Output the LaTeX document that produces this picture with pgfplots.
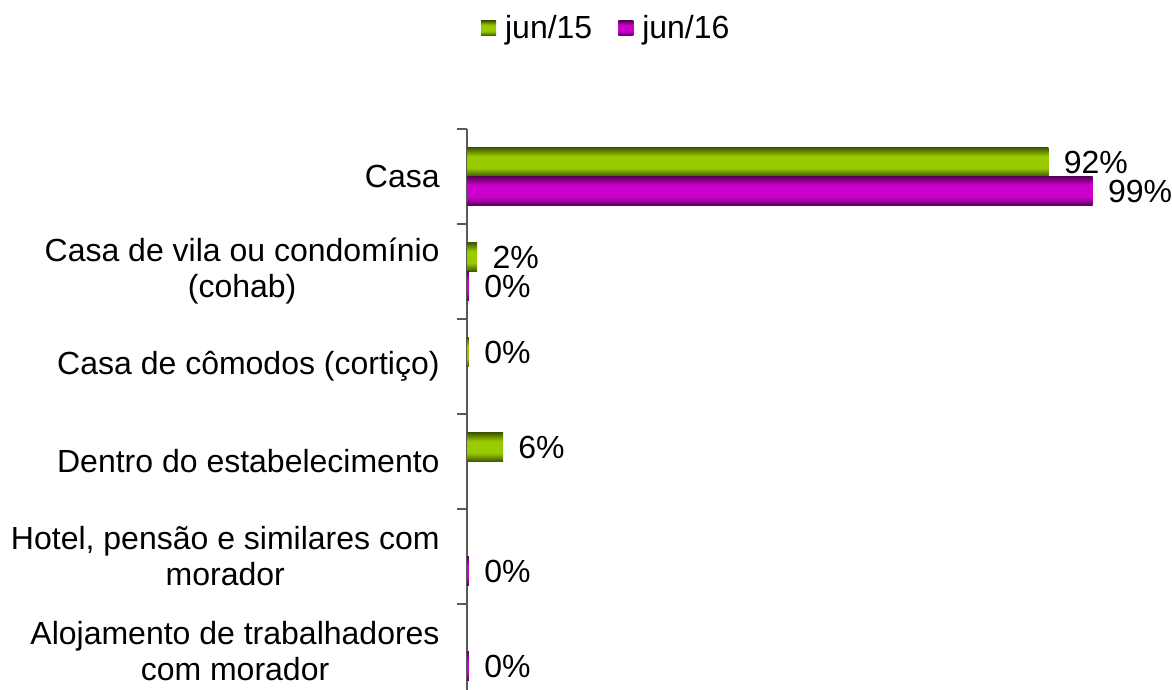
\documentclass[border=0pt]{standalone}
\usepackage{pgfplots}
\pgfplotsset{compat=1.18}
\usepackage{fontspec}
\setmainfont{Liberation Sans}
\definecolor{gdark}{HTML}{3F5700}
\definecolor{gbright}{HTML}{99CC00}
\definecolor{pdark}{HTML}{5A005A}
\definecolor{pbright}{HTML}{CC00CC}
\definecolor{axgray}{HTML}{595959}
\pgfdeclareverticalshading{greenbar}{100bp}{color(0bp)=(gdark); color(25bp)=(gdark); color(40bp)=(gbright); color(60bp)=(gbright); color(75bp)=(gdark); color(100bp)=(gdark)}
\pgfdeclareverticalshading{purplebar}{100bp}{color(0bp)=(pdark); color(25bp)=(pdark); color(40bp)=(pbright); color(60bp)=(pbright); color(75bp)=(pdark); color(100bp)=(pdark)}
\pgfplotsset{
  gbar/.style={shade, shading=greenbar, draw=none},
  pbar/.style={shade, shading=purplebar, draw=none},
}
\begin{document}
\begin{tikzpicture}[font=\fontsize{16}{18}\selectfont]
\begin{axis}[
  at={(233.5pt,-64.5pt)}, anchor=north west,
  scale only axis, width=316pt, height=285pt,
  xmin=0, xmax=100, ymin=-0.5, ymax=5.5, y dir=reverse,
  axis x line=none, axis y line*=left,
  axis line style={axgray, line width=0.75pt},
  clip=false,
  ytick={0,...,5},
  yticklabels={Casa, {Casa de vila ou condomínio\\(cohab)}, {Casa de cômodos (cortiço)}, {Dentro do estabelecimento}, {Hotel, pensão e similares com\\morador}, {Alojamento de trabalhadores\\com morador}},
  major tick length=0pt,
  minor ytick={-0.5,0.5,...,5.5},
  minor tick length=5pt,
  tick align=outside,
  tick style={axgray, line width=0.75pt},
  yticklabel style={align=center, anchor=east, inner sep=0pt, xshift=-13.5pt, font=\fontsize{16}{18}\selectfont},
  xbar, bar width=14.5pt, bar shift=0pt,
  nodes near coords, point meta=explicit symbolic,
  every node near coord/.append style={anchor=west, inner sep=0pt, xshift=7.5pt, font=\fontsize{16}{18}\selectfont, text=black},
  legend style={at={(0.222,1.177)}, anchor=center, draw=none, fill=none, legend columns=2,
    font=\fontsize{16}{18}\selectfont,
    /tikz/every even column/.append style={column sep=11pt}},
  legend image code/.code={\path[#1, draw=none] (0pt,-3.75pt) rectangle (7.5pt,3.75pt); \path (10pt,0pt);},
]
% jun/15
\addplot[gbar] coordinates {(92,-0.1526) [92\%]};
\addlegendentry{jun/15}
% jun/16
\addplot[pbar] coordinates {(99,0.1526) [99\%]};
\addlegendentry{jun/16}
\addplot[gbar, forget plot] coordinates {(1.6,0.8474) [2\%]};
\addplot[gbar, forget plot] coordinates {(0.3,1.8474) [0\%]};
\addplot[gbar, forget plot] coordinates {(5.7,2.8474) [6\%]};
\addplot[pbar, forget plot] coordinates {(0.3,1.1526) [0\%]};
\addplot[pbar, forget plot] coordinates {(0.3,4.1526) [0\%]};
\addplot[pbar, forget plot] coordinates {(0.3,5.1526) [0\%]};
\end{axis}
\pgfresetboundingbox
\path[use as bounding box] (0,0) rectangle (586pt,-345pt);
\end{tikzpicture}
\end{document}
